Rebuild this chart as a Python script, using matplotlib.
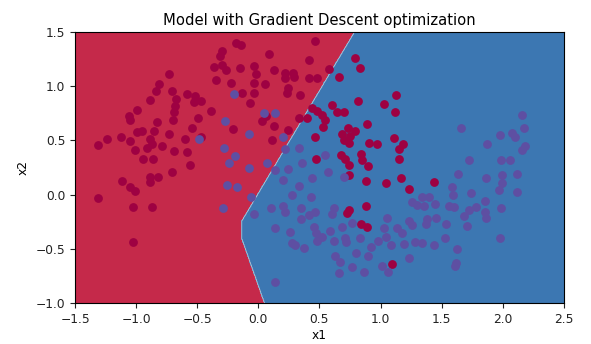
import numpy as np
import matplotlib
matplotlib.use("Agg")
import matplotlib.pyplot as plt

# Class 0 samples (red)
x0 = [-0.73, -0.81, -0.84, -0.71, -0.585, -0.52, -0.885, -0.67, -0.53, -0.68,
      -0.69, -0.99, -1.055, -1.05, -0.83, -0.70, -0.49, -0.54, -0.85, -0.95,
      -0.995, -0.73, -1.12, -1.05, -1.24, -1.31, -0.885, -0.87, -0.79, -0.60,
      -0.91, -1.01, -0.69, -0.585, -0.94, -0.866, -0.557,
      -0.183, -0.139, -0.297, -0.311, 0.091, 0.462, 0.418, -0.366, -0.297, -0.265,
      -0.153, -0.038, -0.019, 0.132, 0.216, 0.282, 0.216, 0.29, 0.413, -0.347,
      -0.221, -0.038, 0.058, 0.244, -0.134, -0.032, 0.235, 0.345, -0.47, -0.065,
      -0.385, 0.063, 0.03, 0.132, -0.21, 0.244, 0.331, 0.399, 0.44, 0.481,
      -0.467, 0.112, 0.462, 0.468,
      0.795, 0.828, 0.582, 0.658, 0.481, 1.123, 0.817, 1.027, 1.117, 0.604,
      0.645, 0.699, 0.522, 0.544, 0.527, 0.89, 0.735, 0.79, 0.686, 0.754,
      0.699, 0.746, 0.904, 0.972, 1.109, 1.183, 1.15, 0.68, 0.844, 0.707,
      0.85, 0.74, 0.899, 1.155,
      -0.708, -0.885, -0.822, -0.885, -1.117, -1.049, -1.008, -1.309, -1.022,
      -0.872, -1.022,
      0.746, 0.877, 1.041, 1.164, 1.232, 1.437, 0.882, 0.74, 0.727, 0.844,
      0.89, 1.095]
y0 = [1.115, 1.02, 0.96, 0.96, 0.93, 0.91, 0.87, 0.88, 0.85, 0.82,
      0.76, 0.78, 0.725, 0.69, 0.67, 0.685, 0.71, 0.617, 0.59, 0.59,
      0.577, 0.56, 0.53, 0.494, 0.516, 0.457, 0.51, 0.463, 0.45, 0.51,
      0.43, 0.41, 0.40, 0.396, 0.325, 0.325, 0.27,
      1.40, 1.38, 1.324, 1.28, 1.294, 1.417, 1.238, 1.177, 1.195, 1.146,
      1.17, 1.186, 1.109, 1.149, 1.125, 1.125, 1.078, 1.085, 1.078, 1.054,
      1.032, 1.032, 1.023, 0.986, 0.94, 0.94, 0.94, 0.919, 0.86, 0.848,
      0.771, 0.725, 0.679, 0.633, 0.602, 0.593, 0.71, 0.703, 0.796, 0.771,
      0.531, 0.50, 0.531, 0.325,
      1.257, 1.165, 1.155, 1.085, 1.078, 0.919, 0.863, 0.839, 0.765, 0.826,
      0.765, 0.765, 0.734, 0.685, 0.623, 0.654, 0.617, 0.586, 0.556, 0.54,
      0.50, 0.479, 0.479, 0.47, 0.525, 0.463, 0.417, 0.365, 0.377, 0.325,
      0.316, 0.273, 0.264, 0.325,
      0.205, 0.165, 0.165, 0.119, 0.125, 0.073, 0.033, -0.035, -0.111,
      -0.111, -0.44,
      0.181, 0.125, 0.104, 0.156, 0.052, 0.119, -0.102, -0.142, -0.173, -0.274,
      -0.302, -0.637]

# Class 1 samples (blue)
x1 = [-0.483, -0.202, 0.044, 0.14, -0.276, -0.079, -0.284, -0.188, -0.243,
      0.20, 0.216, 0.331, 0.358, 0.071, -0.079, 0.544,
      2.161, 1.656, 2.175, 2.08, 2.1, 1.976, 1.875, 2.183, 2.156, 1.724,
      1.984, 2.058,
      -0.26, -0.175, -0.057, -0.292, -0.038, 0.14, 0.244, 0.44, 0.20, 0.331,
      0.276, 0.435, 0.107, 0.20, 0.222, 0.353, 0.462, 0.413, 0.353, 0.14,
      0.263, 0.454, 0.468, 0.481, 0.276, 0.304, 0.372, 0.134,
      0.571, 0.699, 1.259, 1.341, 1.396, 1.3, 1.355, 1.445, 0.617, 0.604,
      1.054, 1.232, 1.259, 1.382, 1.456, 1.369, 0.686, 0.768, 1.027, 1.136,
      1.177, 0.59, 0.522, 0.617, 0.707, 0.718, 0.836, 0.981, 1.041, 1.082,
      0.918, 1.191, 1.281, 1.341, 1.437, 0.631, 0.672, 0.8, 0.899, 0.768,
      1.013, 1.063, 0.863, 0.664, 1.232,
      1.637, 1.866, 1.992, 2.12, 1.997, 1.97, 2.12, 1.588, 1.593, 1.738,
      1.56, 1.601, 1.855, 1.784, 1.724, 1.855, 1.984, 1.683, 1.866, 1.538,
      1.711, 1.528, 1.976, 1.629, 1.615, 1.61]
y1 = [0.51, 0.925, 0.756, 0.756, 0.679, 0.562, 0.427, 0.356, 0.294,
      0.531, 0.417, 0.427, 0.294, 0.294, 0.248, 0.365,
      0.734, 0.611, 0.611, 0.571, 0.531, 0.55, 0.47, 0.448, 0.408, 0.316,
      0.316, 0.316,
      0.09, 0.075, -0.019, -0.121, -0.182, 0.227, 0.236, 0.15, 0.135, 0.082,
      -0.004, -0.019, -0.121, -0.102, -0.158, -0.121, -0.158, -0.188, -0.225, -0.305,
      -0.348, -0.296, -0.357, -0.428, -0.45, -0.465, -0.49, -0.803,
      0.212, 0.165, -0.065, -0.019, -0.019, -0.096, -0.102, -0.09, -0.127, -0.182,
      -0.213, -0.244, -0.28, -0.225, -0.219, -0.274, -0.296, -0.265, -0.305, -0.305,
      -0.357, -0.336, -0.388, -0.428, -0.397, -0.44, -0.397, -0.428, -0.388, -0.465,
      -0.48, -0.459, -0.44, -0.45, -0.465, -0.563, -0.619, -0.542, -0.563, -0.665,
      -0.656, -0.711, -0.717, -0.726, -0.582,
      0.187, 0.156, 0.181, 0.187, 0.104, 0.042, 0.027, 0.073, -0.004, 0.012,
      -0.102, -0.111, -0.059, -0.111, -0.142, -0.158, -0.127, -0.194, -0.219, -0.274,
      -0.287, -0.404, -0.404, -0.502, -0.634, -0.656]

# Piecewise-linear decision boundary of the trained model: x = boundary(y)
upper_top = (0.787, 1.5)
upper_slope = 1.89
lower_bottom = (0.05, -1.0)
lower_slope = 0.312
x_floor = -0.135

x_ticks = [-1.5, -1.0, -0.5, 0.0, 0.5, 1.0, 1.5, 2.0, 2.5]
y_ticks = [-1.0, -0.5, 0.0, 0.5, 1.0, 1.5]

bg_colors = ["#c5294a", "#3c77b2"]
pt_colors = ["#9e0142", "#5e4fa2"]


def boundary(y):
    upper = upper_top[0] - (upper_top[1] - y) / upper_slope
    lower = lower_bottom[0] - (y - lower_bottom[1]) * lower_slope
    return np.maximum(np.maximum(upper, lower), x_floor)


fig = plt.figure(figsize=(5.91, 3.44), dpi=100)
ax = fig.add_axes([0.127, 0.119, 0.827, 0.788])

xx, yy = np.meshgrid(np.linspace(-1.5, 2.5, 800), np.linspace(-1.0, 1.5, 600))
Z = (xx > boundary(yy)).astype(float)
ax.contourf(xx, yy, Z, levels=[-0.5, 0.5, 1.5], colors=bg_colors)
ax.contour(xx, yy, Z, levels=[0.5], colors="#e8e0e0", linewidths=0.6, alpha=0.7)

ax.scatter(x0, y0, s=40, c=pt_colors[0], linewidths=0, zorder=3)
ax.scatter(x1, y1, s=40, c=pt_colors[1], linewidths=0, zorder=3)

ax.set_xlim(-1.5, 2.5)
ax.set_ylim(-1.0, 1.5)
ax.set_xticks(x_ticks)
ax.set_yticks(y_ticks)
ax.tick_params(labelsize=8.8, colors="#222222")
ax.set_xlabel("x1", fontsize=8.8, labelpad=2)
ax.set_ylabel("x2", fontsize=8.8)
ax.set_title("Model with Gradient Descent optimization", fontsize=10.6, pad=5)

fig.savefig("out.png", dpi=100)
